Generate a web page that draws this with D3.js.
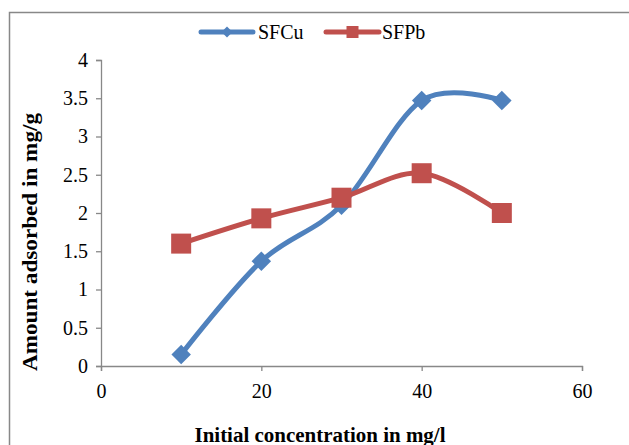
<!DOCTYPE html>
<html><head><meta charset="utf-8">
<script src="https://cdn.jsdelivr.net/npm/d3@7"></script>
<style>body{margin:0;background:#fff}svg{display:block}text{font-family:"Liberation Serif","DejaVu Serif",serif;fill:#000}</style>
</head><body><svg id="c" width="629" height="445"></svg>
<script>
const xValues = [10, 20, 30, 40, 50];
const sfCu = [0.15, 1.37, 2.1, 3.47, 3.47];
const sfPb = [1.6, 1.93, 2.2, 2.52, 2.0];
const xTicks = [0, 20, 40, 60];
const yTicks = [0, 0.5, 1, 1.5, 2, 2.5, 3, 3.5, 4];
const seriesNames = ["SFCu", "SFPb"];
const colors = ["#4F81BD", "#C0504D"];

const svg = d3.select("#c");
svg.append("path").attr("d","M9.5,445 V12.5 H629").attr("fill","none").attr("stroke","#888").attr("stroke-width",1.5);

const x = d3.scaleLinear().domain([0,60]).range([101,582]);
const y = d3.scaleLinear().domain([0,4]).range([366,60]);

const gy = svg.append("g").attr("transform","translate(101,0)")
  .call(d3.axisLeft(y).tickValues(yTicks).tickFormat(d3.format("")).tickSize(5).tickPadding(8));
const gx = svg.append("g").attr("transform","translate(0,366)")
  .call(d3.axisBottom(x).tickValues(xTicks).tickFormat(d3.format("")).tickSize(5).tickPadding(13));
[gx,gy].forEach(g=>{
  g.selectAll("path,line").attr("stroke","#888").attr("stroke-width",1.3);
  g.selectAll("text").style("font-size","20px").style("font-family","'Liberation Serif','DejaVu Serif',serif");
});

const line = d3.line().x((d,i)=>x(xValues[i])).y(d=>y(d)).curve(d3.curveCatmullRom.alpha(0));
const data = [sfCu, sfPb];
const diamond = d3.symbol().type(d3.symbolSquare).size(190);
data.forEach((vals,k)=>{
  svg.append("path").attr("d",line(vals)).attr("fill","none").attr("stroke",colors[k]).attr("stroke-width",5).attr("stroke-linecap","round");
  vals.forEach((v,i)=>{
    if(k===0){
      svg.append("path").attr("d",diamond()).attr("transform",`translate(${x(xValues[i])},${y(v)}) rotate(45)`).attr("fill",colors[k]);
    } else {
      svg.append("rect").attr("x",x(xValues[i])-10).attr("y",y(v)-10).attr("width",20).attr("height",20).attr("fill",colors[k]);
    }
  });
});

// legend
const leg = [{x0:201,x1:253,tx:258},{x0:326,x1:379,tx:382}];
leg.forEach((l,k)=>{
  svg.append("line").attr("x1",l.x0).attr("x2",l.x1).attr("y1",32).attr("y2",32).attr("stroke",colors[k]).attr("stroke-width",5).attr("stroke-linecap","round");
  const cx=(l.x0+l.x1)/2;
  if(k===0) svg.append("path").attr("d",d3.symbol().type(d3.symbolSquare).size(60)()).attr("transform",`translate(${cx},32) rotate(45)`).attr("fill",colors[k]);
  else svg.append("rect").attr("x",cx-6).attr("y",26).attr("width",12).attr("height",12).attr("fill",colors[k]);
  svg.append("text").attr("x",l.tx).attr("y",38.5).style("font-size","20px").text(seriesNames[k]);
});

svg.append("text").attr("x",320).attr("y",442).attr("text-anchor","middle").style("font-size","20px").style("font-weight","bold")
  .attr("textLength",251).attr("lengthAdjust","spacingAndGlyphs").text("Initial concentration in mg/l");
svg.append("text").attr("transform","translate(37,242) rotate(-90)").attr("text-anchor","middle").style("font-size","20px").style("font-weight","bold")
  .attr("textLength",258).attr("lengthAdjust","spacingAndGlyphs").text("Amount adsorbed in mg/g");
</script></body></html>
